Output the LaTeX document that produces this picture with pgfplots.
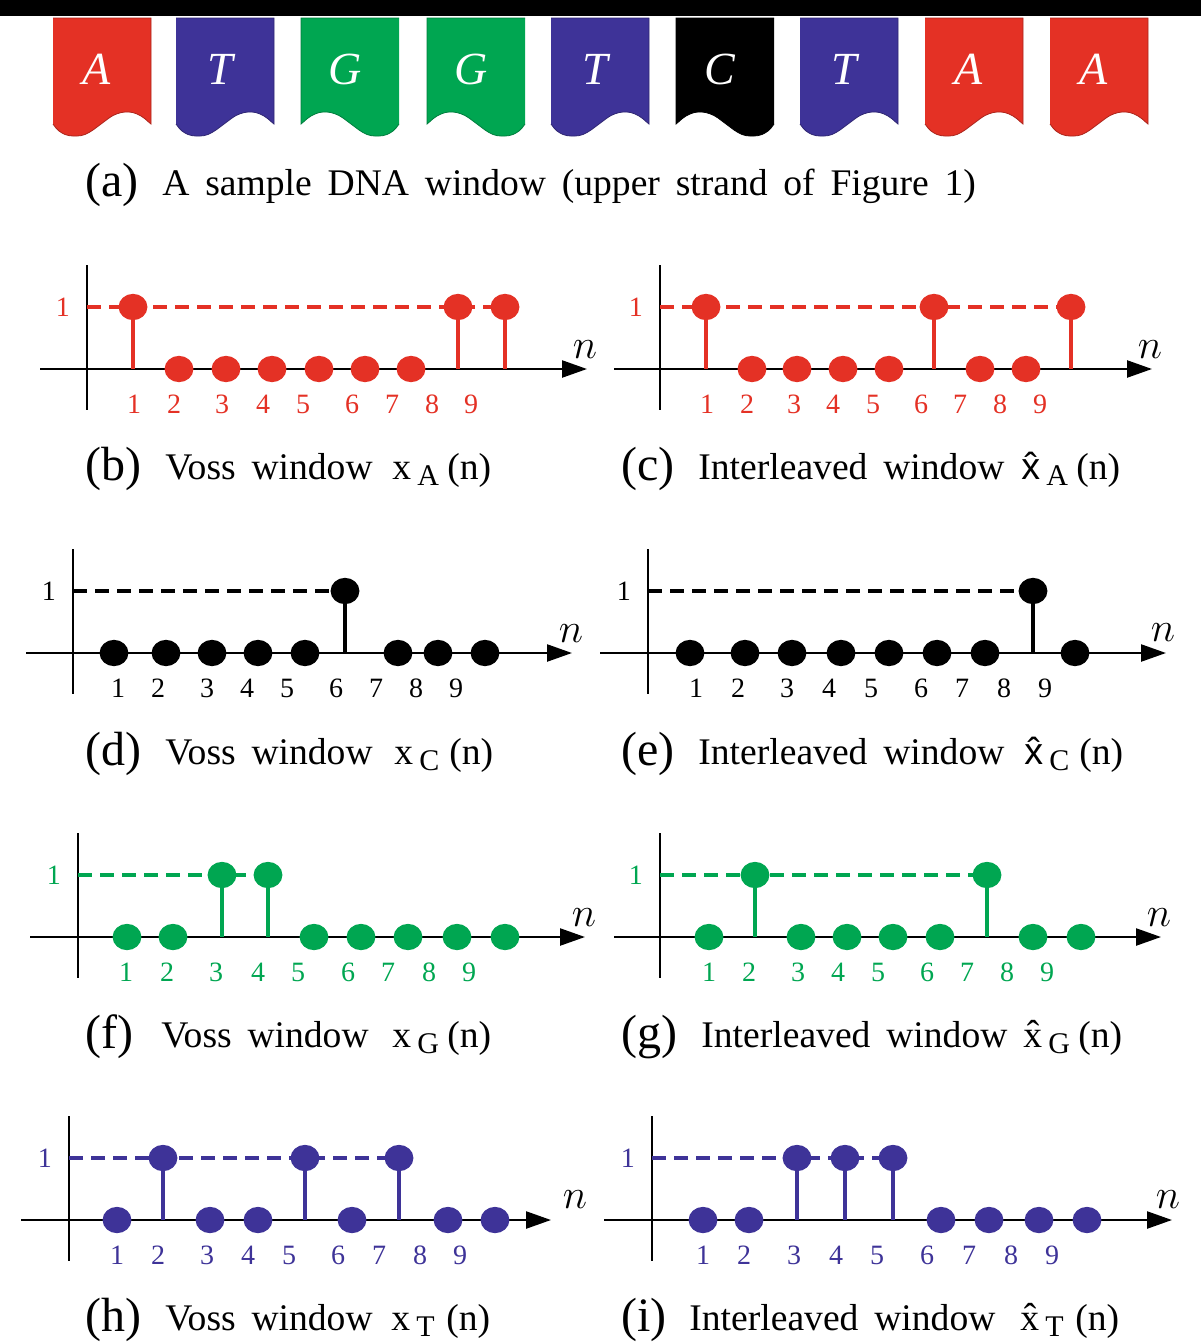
\documentclass[border=0pt]{standalone}
\usepackage{fontspec}
\setmainfont{Liberation Serif}
\newfontfamily\hatfont{Liberation Sans}
\usepackage{pgfplots}
\usepackage{pgfplotstable}
\pgfplotsset{compat=1.18}
\usetikzlibrary{arrows.meta}
\definecolor{cA}{RGB}{228,49,37}
\definecolor{cT}{RGB}{62,51,152}
\definecolor{cG}{RGB}{0,166,81}
\definecolor{cC}{RGB}{0,0,0}

% one flag, x and depth in pixels from its top left corner
\pgfplotstableread{
x y
0 0
98 0
98 106
95 103.5
92 100.8
88 98
84 96
80 94.6
76 94
72 94
68 94.6
64 95.8
60 97.5
56 100
52 103
48 106
44 109
40 112
36 114.5
32 116.5
28 117.6
24 118
20 118
16 117.6
12 116.5
9 115
6 113
3 110
0 106
}\flagshape

% left edge, colour, letter, 1 or -1 for the wave direction
\newcommand{\flag}[4]{%
  \addplot[fill=#2, draw=#2!75!black, line width=0.4pt]
    table[x expr={#1+49+#4*(\thisrow{x}-49)}, y expr={\thisrow{y}+18}] {\flagshape};
  \node[text=white, font=\fontsize{23}{24}\selectfont\itshape] at (axis cs:#1+44,69) {#3};
}

\pgfplotsset{
  panel/.style={
    anchor=origin, x=0.5pt, y=31pt, clip=false,
    ymin=-0.66, ymax=1.68,
    axis x line=middle, axis y line=middle,
    x axis line style={line width=1.2pt, -{Triangle[length=12.5pt,width=8.5pt]}},
    y axis line style={line width=1.2pt, -},
    major tick length=0pt, ytick={1}, yticklabels={1},
    tick label style={font=\fontsize{14}{14}\selectfont},
    xticklabels={1,2,3,4,5,6,7,8,9},
    xticklabel style={yshift=-9.5pt}, yticklabel style={xshift=-5pt},
  },
}

% colour, origin x, origin y, xmin, xmax, tick positions, dashed line, stems and dots
\newcommand{\panel}[8]{%
  \begin{axis}[panel, at={(#2*0.5pt,-#3*0.5pt)}, xmin=#4, xmax=#5, xtick={#6},
      xticklabel style={text=#1}, yticklabel style={text=#1}]
    \addplot[#1, line width=2.2pt, dash pattern=on 6.8pt off 4.2pt, forget plot] coordinates {#7};
    \addplot[#1, ycomb, line width=1.6pt, mark=*, mark size=6.4pt, mark options={fill=#1, draw=#1, solid, yscale=0.9}] coordinates {#8};
  \end{axis}}

\newcommand{\capt}[3]{\node[anchor=base west, inner sep=0pt, font=\fontsize{#3}{#3}\selectfont] at ({(#1)*0.5pt},{-(#2)*0.5pt})}
\newcommand{\W}{\hspace{0.42em}}
% tag, x of text, text, x of x, x or hat x, sub, tag x, baseline
\newcommand{\capline}[8]{%
  \capt{#7}{#8}{24}{(#1)};
  \capt{#2}{#8-1}{18.8}{#3};
  \capt{#4}{#8-1}{18.8}{#5};
  \capt{#4+25}{#8+5}{15}{#6};
  \capt{#4+55}{#8-1}{18.8}{(n)};
}
\newcommand{\nlabel}[2]{\node[font=\fontsize{20}{20}\selectfont] at ({(#1)*0.5pt},{-(#2)*0.5pt}) {$n$};}

\begin{document}
\begin{tikzpicture}
\useasboundingbox (0,0) rectangle (600pt,-671.5pt);

\begin{axis}[at={(0,0)}, anchor=north west, x=0.5pt, y=0.5pt, xmin=0, xmax=1200, ymin=0, ymax=140,
    y dir=reverse, hide axis, clip=false]
  \addplot[fill=black, draw=black] coordinates {(0,0)(1200,0)(1200,15)(0,15)} -- cycle;
  \flag{53}{cA}{A}{1}
  \flag{176}{cT}{T}{1}
  \flag{301}{cG}{G}{-1}
  \flag{427}{cG}{G}{-1}
  \flag{551}{cT}{T}{1}
  \flag{676}{cC}{C}{-1}
  \flag{800}{cT}{T}{1}
  \flag{925}{cA}{A}{1}
  \flag{1050}{cA}{A}{1}
\end{axis}

\panel{cA}{87}{369}{-47}{500}{47,87,135,176,216,265,305,345,384}
  {(0,1)(418,1)}
  {(46,1)(92,0)(139,0)(185,0)(232,0)(278,0)(324,0)(371,1)(418,1)}
\panel{cA}{660}{369}{-46}{492}{47,87,134,173,213,261,300,340,380}
  {(0,1)(411,1)}
  {(46,1)(92,0)(137,0)(183,0)(229,0)(274,1)(320,0)(366,0)(411,1)}
\panel{cC}{73}{653}{-47}{499}{45,85,134,174,214,263,303,343,383}
  {(0,1)(272,1)}
  {(41,0)(93,0)(139,0)(185,0)(232,0)(272,1)(325,0)(365,0)(412,0)}
\panel{cC}{648}{653}{-48}{518}{48,90,139,181,223,273,314,356,397}
  {(0,1)(385,1)}
  {(42,0)(97,0)(144,0)(193,0)(241,0)(289,0)(337,0)(385,1)(427,0)}
\panel{cG}{78}{937}{-48}{507}{48,89,138,180,220,270,310,351,391}
  {(0,1)(190,1)}
  {(49,0)(95,0)(144,1)(190,1)(236,0)(283,0)(330,0)(379,0)(427,0)}
\panel{cG}{660}{937}{-46}{501}{49,89,138,178,218,267,307,347,387}
  {(0,1)(327,1)}
  {(49,0)(95,1)(141,0)(187,0)(233,0)(280,0)(327,1)(373,0)(421,0)}
\panel{cT}{69}{1220}{-48}{482}{48,89,138,179,220,269,310,351,391}
  {(0,1)(330,1)}
  {(48,0)(94,1)(141,0)(189,0)(236,1)(283,0)(330,1)(379,0)(426,0)}
\panel{cT}{652}{1220}{-48}{520}{51,92,142,184,225,275,317,359,400}
  {(0,1)(241,1)}
  {(51,0)(97,0)(145,1)(193,1)(241,1)(289,0)(337,0)(387,0)(435,0)}

\nlabel{585}{350}
\nlabel{1150}{350}
\nlabel{571}{634}
\nlabel{1163}{633}
\nlabel{584}{918}
\nlabel{1159}{918}
\nlabel{575}{1200}
\nlabel{1168}{1200}

\capt{85}{196}{24}{(a)};
\capt{162}{195}{18.8}{A\W sample\W DNA\W window\W (upper\W strand\W of\W Figure\W 1)};
\capline{b}{165}{Voss\W window}{392}{x}{A}{85}{480}
\capline{c}{698}{Interleaved\W window}{1021}{{\hatfont\^x}}{A}{621}{480}
\capline{d}{165}{Voss\W window}{394}{x}{C}{85}{765}
\capline{e}{698}{Interleaved\W window}{1024}{{\hatfont\^x}}{C}{621}{765}
\capline{f}{161}{Voss\W window}{392}{x}{G}{85}{1048}
\capline{g}{701}{Interleaved\W window}{1023}{\^x}{G}{621}{1048}
\capline{h}{165}{Voss\W window}{391}{x}{T}{85}{1331}
\capline{i}{689}{Interleaved\W window}{1020}{\^x}{T}{621}{1331}
\end{tikzpicture}
\end{document}
